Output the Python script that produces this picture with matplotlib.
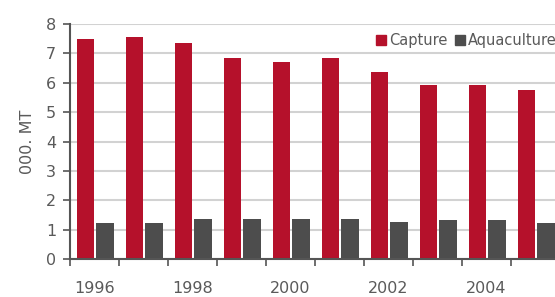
import matplotlib.pyplot as plt
from matplotlib.patches import Patch
from matplotlib.ticker import FixedLocator, NullFormatter

years = [1996, 1997, 1998, 1999, 2000, 2001, 2002, 2003, 2004, 2005]
capture = [7.5, 7.55, 7.34, 6.86, 6.71, 6.86, 6.38, 5.91, 5.91, 5.77]
aquaculture = [1.21, 1.21, 1.36, 1.36, 1.36, 1.36, 1.27, 1.32, 1.32, 1.21]
label_years = [1996, 1998, 2000, 2002, 2004]

red = '#B5112B'
grey = '#4D4D4D'
txt = '#5A5A5A'

fig = plt.figure(figsize=(5.55, 2.97), dpi=100)
ax = fig.add_axes([0.126, 0.128, 0.883, 0.791])

idx = list(range(len(years)))
ax.bar([i + 0.316 for i in idx], capture, width=0.35, color=red, zorder=3)
ax.bar([i + 0.714 for i in idx], aquaculture, width=0.37, color=grey, zorder=3)

ax.set_xlim(0, len(years))
ax.set_ylim(0, 8)
ax.set_yticks(range(0, 9))
ax.yaxis.grid(True, color='#D2D2D2', linewidth=1.5, zorder=0)

# group boundaries carry the tick marks, labels sit in the middle of the group
ax.xaxis.set_major_locator(FixedLocator(list(range(len(years) + 1))))
ax.xaxis.set_major_formatter(NullFormatter())
ax.xaxis.set_minor_locator(FixedLocator([years.index(y) + 0.5 for y in label_years]))
ax.set_xticklabels([str(y) for y in label_years], minor=True)
ax.tick_params(axis='x', which='major', length=5, width=1.2, color='#555555', direction='out')
ax.tick_params(axis='x', which='minor', length=0, pad=16, labelsize=11.5, labelcolor=txt)
ax.tick_params(axis='y', length=5, width=1.2, color='#555555', labelsize=11.5, labelcolor=txt, pad=5)

for s in ['top', 'right']:
    ax.spines[s].set_visible(False)
for s in ['left', 'bottom']:
    ax.spines[s].set_color('#555555')
    ax.spines[s].set_linewidth(1.5)
    ax.spines[s].set_zorder(4)

ax.set_ylabel('000. MT', fontsize=11.5, color=txt, labelpad=8)

handles = [Patch(color=red, label='Capture'), Patch(color=grey, label='Aquaculture')]
fig.legend(handles=handles, loc='center left', bbox_to_anchor=(0.664, 0.862),
           ncol=2, frameon=False, fontsize=10.5, handlelength=0.7, handleheight=0.7,
           handletextpad=0.2, columnspacing=0.5, borderpad=0, labelcolor=txt)

plt.savefig('out.png', dpi=100)
